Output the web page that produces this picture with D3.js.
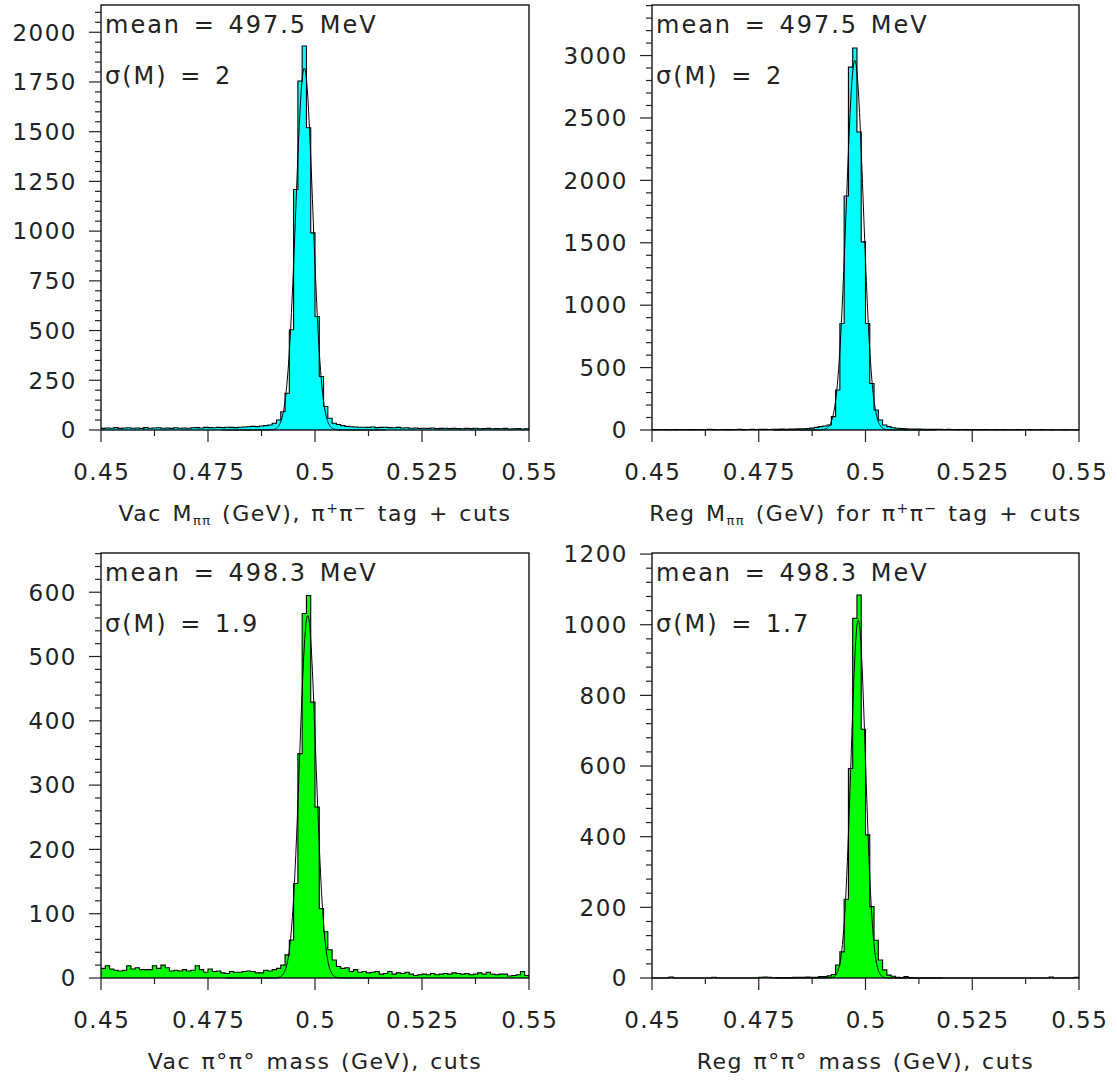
<!DOCTYPE html>
<html>
<head>
<meta charset="utf-8">
<script src="https://cdn.jsdelivr.net/npm/d3@7"></script>
<style>
  html, body { margin: 0; padding: 0; background: #ffffff; }
  svg { display: block; }
  text { font-family: "DejaVu Sans", "Liberation Sans", sans-serif; fill: #222; }
</style>
</head>
<body>
<svg id="chart" width="1117" height="1081"></svg>
<script>
// ---------------- DATA ----------------
// 100 bins of 1 MeV from 0.45 to 0.55 GeV
const xRange = [0.45, 0.55];
const nBins = 100;
const xTickValues = [0.45, 0.475, 0.5, 0.525, 0.55];
const xTickLabels = ["0.45", "0.475", "0.5", "0.525", "0.55"];

const vacPipiCounts = [
  8,10,9,12,8,10,11,9,10,8, 12,9,10,11,9,10,8,11,9,10,
  9,11,12,10,13,12,11,13,12,14, 13,12,14,15,16,18,17,20,22,25,
  34,50,92,185,504,1209,1755,1931,1520,991, 571,269,118,59,34,28,22,18,16,15,
  14,14,13,15,12,13,14,12,11,13, 10,11,9,10,8,9,8,10,7,8,
  9,7,8,7,6,8,7,9,6,7, 8,6,7,6,8,5,6,7,5,6
];
const regPipiCounts = [
  3,2,4,3,2,3,4,2,3,3, 4,2,3,5,3,2,4,3,3,4,
  5,3,4,5,4,6,5,4,6,5, 7,6,8,7,9,10,12,15,21,27,
  32,40,107,320,853,1875,2907,3061,2387,1507, 853,373,160,80,40,27,18,14,11,9,
  8,8,7,6,6,5,5,6,4,5, 4,3,4,3,4,3,2,3,3,2,
  3,2,3,2,2,3,2,2,3,2, 2,3,2,1,2,2,1,2,2,1
];
const vacPi0Counts = [
  15,19,14,12,11,12,19,14,16,13, 13,13,19,15,20,16,11,12,11,13,
  11,12,19,13,9,14,10,11,8,7, 10,9,9,10,11,10,8,8,12,11,
  13,15,20,36,59,147,349,567,595,429, 266,108,72,44,28,18,15,16,10,13,
  9,10,8,9,10,6,7,10,6,8, 7,9,6,4,5,6,5,7,5,6,
  7,6,8,7,6,7,5,6,8,6, 9,6,5,6,6,3,4,5,10,4
];
const regPi0Counts = [
  0,0,0,0,3,0,0,0,0,0, 0,0,0,0,2,0,0,0,0,0,
  0,0,0,0,0,2,3,2,0,1, 0,1,1,2,2,2,3,2,2,4,
  4,6,10,37,74,223,593,1018,1084,704, 405,202,107,51,23,8,5,2,1,4,
  1,0,0,0,0,0,0,0,0,0, 0,0,0,0,0,0,0,0,0,0,
  0,0,0,0,0,0,0,0,0,0, 0,0,0,3,0,0,0,0,0,2
];

// Gaussian fit results (amplitude in counts, mean and sigma in GeV)
const fitAmplitudes = [1820, 2960, 564, 1013];
const fitMeans = [0.4975, 0.4975, 0.4983, 0.4983];
const fitSigmas = [0.0020, 0.0020, 0.0019, 0.0017];
const fitRanges = [[0.4785, 0.5165], [0.4785, 0.5165], [0.479, 0.518], [0.479, 0.518]];

const yMaxima = [2137, 3405, 661, 1203];
const yMajorSteps = [250, 500, 100, 200];
const yMinorSteps = [50, 100, 20, 40];

const meanLabels = ["mean = 497.5 MeV", "mean = 497.5 MeV", "mean = 498.3 MeV", "mean = 498.3 MeV"];
const sigmaLabels = ["σ(M) = 2", "σ(M) = 2", "σ(M) = 1.9", "σ(M) = 1.7"];
const fillColors = ["#00ffff", "#00ffff", "#00ff00", "#00ff00"];

// axis titles as [text, kind] pieces (kind: n normal, sub, sup)
const axisTitles = [
  [["Vac M","n"],["ππ","sub"],[" (GeV), π","n"],["+","sup"],["π","n"],["−","sup"],[" tag + cuts","n"]],
  [["Reg M","n"],["ππ","sub"],[" (GeV) for π","n"],["+","sup"],["π","n"],["−","sup"],[" tag + cuts","n"]],
  [["Vac π°π° mass (GeV), cuts","n"]],
  [["Reg π°π° mass (GeV), cuts","n"]]
];

const allCounts = [vacPipiCounts, regPipiCounts, vacPi0Counts, regPi0Counts];

// ---------------- LAYOUT ----------------
const frames = [
  {x0: 101, x1: 529, y0: 5, y1: 430},
  {x0: 652, x1: 1079, y0: 5, y1: 430},
  {x0: 101, x1: 529, y0: 553, y1: 978},
  {x0: 652, x1: 1079, y0: 553, y1: 978}
];

const svg = d3.select("#chart");
svg.append("rect").attr("width", 1117).attr("height", 1081).attr("fill", "#fff");

const FONT = 23, LS = 1.5;

frames.forEach((f, p) => {
  const counts = allCounts[p];
  const x = d3.scaleLinear().domain(xRange).range([f.x0, f.x1]);
  const y = d3.scaleLinear().domain([0, yMaxima[p]]).range([f.y1, f.y0]);
  const g = svg.append("g");
  const binW = (xRange[1] - xRange[0]) / nBins;

  const pts = counts.map((c, i) => ({x: xRange[0] + i * binW, c}));
  pts.push({x: xRange[1], c: counts[counts.length - 1]});

  const area = d3.area().curve(d3.curveStepAfter)
    .x(d => x(d.x)).y0(y(0)).y1(d => y(d.c));
  g.append("path").datum(pts).attr("d", area)
    .attr("fill", fillColors[p]).attr("stroke", "none");

  const line = d3.line().curve(d3.curveStepAfter)
    .x(d => x(d.x)).y(d => y(d.c));
  g.append("path").datum(pts).attr("d", line)
    .attr("fill", "none").attr("stroke", "#000").attr("stroke-width", 1.1)
    .attr("stroke-linejoin", "miter");

  // Gaussian fit curve
  const [r0, r1] = fitRanges[p];
  const fx = d3.range(r0, r1 + 1e-9, 0.0001);
  const gauss = v => fitAmplitudes[p] * Math.exp(-0.5 * Math.pow((v - fitMeans[p]) / fitSigmas[p], 2));
  g.append("path").datum(fx)
    .attr("d", d3.line().x(v => x(v)).y(v => y(gauss(v))))
    .attr("fill", "none").attr("stroke", "#000").attr("stroke-width", 1);

  // frame
  g.append("rect").attr("x", f.x0).attr("y", f.y0)
    .attr("width", f.x1 - f.x0).attr("height", f.y1 - f.y0)
    .attr("fill", "none").attr("stroke", "#000").attr("stroke-width", 1.3);

  // x axis ticks (below frame)
  const xMinor = d3.range(0, 9).map(k => xRange[0] + k * 0.0125);
  g.selectAll(null).data(xMinor).enter().append("line")
    .attr("x1", d => x(d)).attr("x2", d => x(d))
    .attr("y1", f.y1).attr("y2", (d, i) => f.y1 + (i % 2 === 0 ? 12 : 6))
    .attr("stroke", "#222").attr("stroke-width", 1.2);
  g.selectAll(null).data(xTickValues).enter().append("text")
    .attr("x", d => x(d) + LS / 2).attr("y", f.y1 + 50)
    .attr("text-anchor", "middle")
    .style("font-size", FONT + "px").style("letter-spacing", LS + "px")
    .text((d, i) => xTickLabels[i]);

  // y axis ticks (left of frame)
  const yMin = d3.range(0, yMaxima[p] + 1e-9, yMinorSteps[p]);
  g.selectAll(null).data(yMin).enter().append("line")
    .attr("x1", f.x0).attr("x2", d => f.x0 - (d % yMajorSteps[p] === 0 ? 12 : 6))
    .attr("y1", d => y(d)).attr("y2", d => y(d))
    .attr("stroke", "#222").attr("stroke-width", 1.2);
  const yMaj = d3.range(0, yMaxima[p] + 1e-9, yMajorSteps[p]);
  g.selectAll(null).data(yMaj).enter().append("text")
    .attr("x", f.x0 - 24).attr("y", d => y(d)).attr("dy", "0.36em")
    .attr("text-anchor", "end")
    .style("font-size", FONT + "px").style("letter-spacing", LS + "px")
    .text(d => d);

  // stats text
  g.append("text").attr("x", f.x0 + 4).attr("y", f.y0 + 28)
    .style("font-size", "24px").style("letter-spacing", "2px").style("word-spacing", "3px")
    .text(meanLabels[p]);
  g.append("text").attr("x", f.x0 + 4).attr("y", f.y0 + 79)
    .style("font-size", "24px").style("letter-spacing", "2px").style("word-spacing", "3px")
    .text(sigmaLabels[p]);

  // axis title
  const t = g.append("text").attr("x", (f.x0 + f.x1) / 2).attr("y", f.y1 + 91)
    .attr("text-anchor", "middle")
    .style("font-size", "22px").style("letter-spacing", "1.5px").style("word-spacing", "2px");
  axisTitles[p].forEach(([s, kind]) => {
    const ts = t.append("tspan").text(s);
    if (kind === "sub") ts.style("font-size", "13px").attr("baseline-shift", "-4");
    if (kind === "sup") ts.style("font-size", "14px").attr("baseline-shift", "8");
  });
});
</script>
</body>
</html>
